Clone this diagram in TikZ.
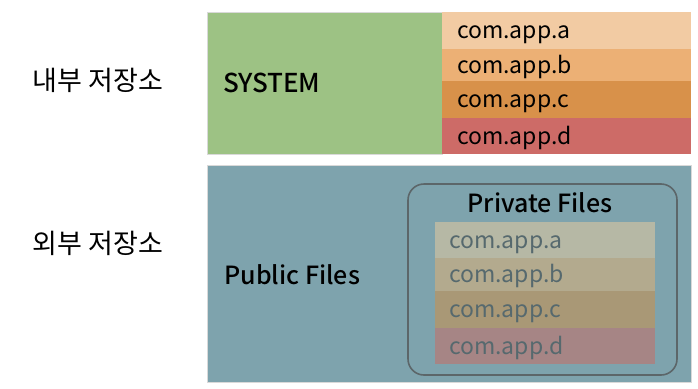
\documentclass[tikz,border=0pt]{standalone}
\usepackage{fontspec}
\setmainfont{Noto Sans CJK KR}[BoldFont={Noto Sans CJK KR Medium}]
\usepackage{tikz}
\usetikzlibrary{positioning}
\usepackage{xcolor}
\definecolor{sysgreen}{HTML}{9DC284}
\definecolor{appA}{HTML}{F2CBA3}
\definecolor{appB}{HTML}{ECB075}
\definecolor{appC}{HTML}{D8914A}
\definecolor{appD}{HTML}{CD6B67}
\definecolor{extblue}{HTML}{7EA3AD}
\definecolor{privA}{HTML}{B6B8A5}
\definecolor{privB}{HTML}{B3AA8E}
\definecolor{privC}{HTML}{A99876}
\definecolor{privD}{HTML}{A68585}
\definecolor{privtext}{HTML}{56696E}
\definecolor{holderline}{HTML}{5C6669}

\begin{document}
\begin{tikzpicture}[
  x=1pt, y=-1pt,
  area/.style={rectangle, draw=white!85!black, inner xsep=16pt, align=left,
               font=\fontsize{26}{30}\selectfont\bfseries},
  strip/.style={rectangle, minimum width=249pt, inner xsep=15pt,
                text width=219pt, align=left, text height=18pt, text depth=2pt,
                font=\fontsize{23}{26}\selectfont},
  pstrip/.style={strip, minimum width=220pt, text width=192pt, inner xsep=14pt,
                 text=privtext},
  side/.style={font=\fontsize{27}{30}\selectfont},
  title/.style={font=\fontsize{25}{30}\selectfont\bfseries},
  holder/.style={rectangle, rounded corners=16pt, draw=holderline, line width=1.6pt,
                 minimum width=269pt, minimum height=191pt}
]
\useasboundingbox (0,0) rectangle (698,388);

% Labels on the left
\node[side] (inner) at (98, 80) {내부 저장소};
\node[side] (outer) at (98, 243) {외부 저장소};

% Internal storage
\node[area, fill=sysgreen, minimum width=235pt, minimum height=142pt,
      text width=203pt] (sys) at (324.5, 83) {SYSTEM};
\node[strip, fill=appA, minimum height=37pt] (sa) at (566.5, 30.5) {com.app.a};
\node[strip, fill=appB, minimum height=32pt] (sb) at (566.5, 65) {com.app.b};
\node[strip, fill=appC, minimum height=37pt] (sc) at (566.5, 99.5) {com.app.c};
\node[strip, fill=appD, minimum height=36pt] (sd) at (566.5, 136) {com.app.d};

% External storage
\node[area, fill=extblue, minimum width=484pt, minimum height=217pt,
      text width=452pt] (pub) at (449, 273.5) {};
\node[title, anchor=west] (pubtext) at (221, 275) {Public Files};

% Private files inside
\node[holder] (priv) at (542.5, 279.5) {};
\node[title] (privtitle) at (540, 203) {Private Files};
\node[pstrip, fill=privA, minimum height=36pt] (pa) at (545, 240) {com.app.a};
\node[pstrip, fill=privB, minimum height=33pt] (pb) at (545, 274.5) {com.app.b};
\node[pstrip, fill=privC, minimum height=37pt] (pc) at (545, 309.5) {com.app.c};
\node[pstrip, fill=privD, minimum height=36pt] (pd) at (545, 346) {com.app.d};
\end{tikzpicture}
\end{document}
